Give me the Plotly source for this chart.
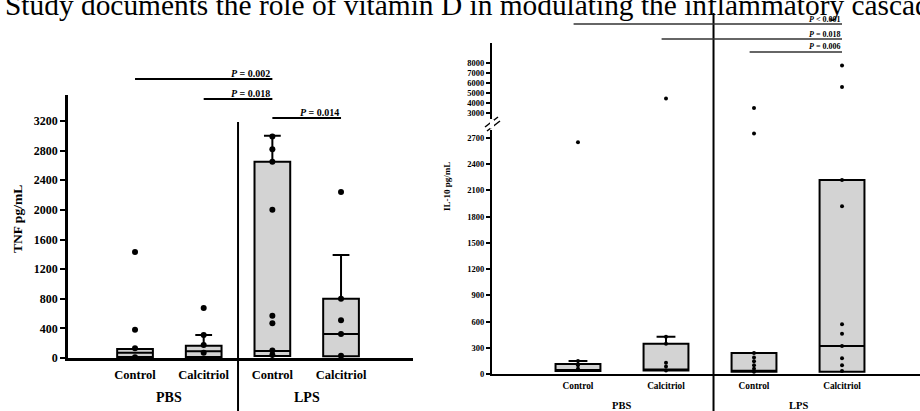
import plotly.graph_objects as go

W, H = 920, 411

# ---------------- data ----------------
categories = ["Control", "Calcitriol", "Control", "Calcitriol"]
groups = ["PBS", "LPS"]

# TNF (pg/mL) box statistics per group
tnf_q1 = [15, 15, 27, 25]
tnf_median = [70, 90, 95, 325]
tnf_q3 = [120, 165, 2650, 800]
tnf_upper = [120, 310, 3000, 1390]
tnf_points = [
    [1430, 380, 130, 10],
    [675, 310, 175, 70],
    [2990, 2820, 2650, 2000, 570, 470, 100, 40],
    [2240, 800, 510, 325, 30],
]
tnf_ticks = [0, 400, 800, 1200, 1600, 2000, 2400, 2800, 3200]

# IL-10 (pg/mL) box statistics per group
il10_q1 = [35, 40, 25, 25]
il10_median = [35, 40, 25, 320]
il10_q3 = [114, 345, 240, 2220]
il10_upper = [150, 425, 240, 2220]
il10_points = [
    [2650, 150, 100, 60],
    [4450, 425, 345, 130, 85, 40],
    [3500, 2750, 240, 190, 145, 100, 60, 25],
    [7750, 5600, 2220, 1920, 570, 460, 320, 180, 100, 35],
]
il10_low_ticks = [0, 300, 600, 900, 1200, 1500, 1800, 2100, 2400, 2700]
il10_high_ticks = [3000, 4000, 5000, 6000, 7000, 8000]
IL10_BREAK = 2791  # top of the lower axis segment

tnf_pvalues = [("<i>P</i> = 0.002", 0, 2, 79), ("<i>P</i> = 0.018", 1, 2, 99), ("<i>P</i> = 0.014", 2, 3, 118)]
il10_pvalues = [("<i>P</i> &lt; 0.001", 0, 3, 24), ("<i>P</i> = 0.018", 1, 3, 39), ("<i>P</i> = 0.006", 2, 3, 52)]

# ---------------- helpers ----------------
def py(p):
    return 1 - p / H


def pxx(p):
    return p / W


SERIF = "Liberation Serif"
FILL = "#d3d3d3"
xs = list(range(len(categories)))

fig = go.Figure()

# --- TNF panel ---
fig.add_trace(go.Box(
    x=xs, q1=tnf_q1, median=tnf_median, q3=tnf_q3,
    lowerfence=tnf_q1, upperfence=tnf_upper,
    width=0.52, whiskerwidth=0.47, fillcolor=FILL,
    line=dict(color="black", width=2), boxpoints=False,
    xaxis="x", yaxis="y", showlegend=False, hoverinfo="skip"))
px_, py_ = [], []
for i, pts in enumerate(tnf_points):
    px_ += [i] * len(pts)
    py_ += pts
fig.add_trace(go.Scatter(x=px_, y=py_, mode="markers",
                         marker=dict(color="black", size=6),
                         xaxis="x", yaxis="y", showlegend=False, hoverinfo="skip"))

# --- IL-10 panel (broken axis) ---
fig.add_trace(go.Box(
    x=xs, q1=il10_q1, median=il10_median, q3=il10_q3,
    lowerfence=il10_q1, upperfence=il10_upper,
    width=0.51, whiskerwidth=0.42, fillcolor=FILL,
    line=dict(color="black", width=2), boxpoints=False,
    xaxis="x2", yaxis="y2", showlegend=False, hoverinfo="skip"))
lx, ly, hx, hy = [], [], [], []
for i, pts in enumerate(il10_points):
    for v in pts:
        if v > IL10_BREAK:
            hx.append(i); hy.append(v)
        else:
            lx.append(i); ly.append(v)
fig.add_trace(go.Scatter(x=lx, y=ly, mode="markers",
                         marker=dict(color="black", size=4),
                         xaxis="x2", yaxis="y2", showlegend=False, hoverinfo="skip"))
fig.add_trace(go.Scatter(x=hx, y=hy, mode="markers",
                         marker=dict(color="black", size=4),
                         xaxis="x2", yaxis="y3", showlegend=False, hoverinfo="skip"))

# ---------------- axes ----------------
def tfont(size):
    return dict(family=SERIF, size=size, color="black", weight="bold")


common_x = dict(showline=True, linecolor="black", ticks="", showgrid=False,
                zeroline=False, tickvals=xs, ticktext=categories, automargin=False)
common_y = dict(showline=True, linecolor="black", ticks="outside",
                tickcolor="black", showgrid=False, zeroline=False, automargin=False)

fig.update_layout(
    template="none",
    width=W, height=H, margin=dict(l=0, r=0, t=0, b=0, pad=0),
    paper_bgcolor="white", plot_bgcolor="white",
    xaxis=dict(domain=[pxx(68), pxx(413)], anchor="y", range=[-0.976, 4.048],
               linewidth=2.5, tickfont=tfont(12.5), ticklabelstandoff=3, **common_x),
    yaxis=dict(domain=[py(358), py(95)], anchor="x", range=[0, 3551],
               tickvals=tnf_ticks, linewidth=2.5, ticklen=5, tickwidth=2,
               tickfont=tfont(12), **common_y),
    xaxis2=dict(domain=[pxx(492), 1.0], anchor="y2", range=[-0.977, 3.886],
                linewidth=2, tickfont=tfont(9.3), ticklabelstandoff=2, **common_x),
    yaxis2=dict(domain=[py(374), py(130)], anchor="x2", range=[0, IL10_BREAK],
                tickvals=il10_low_ticks, linewidth=2, ticklen=4, tickwidth=1.5,
                tickfont=tfont(8.5), **common_y),
    yaxis3=dict(domain=[py(119), py(43)], anchor="x2", range=[2400, 10000],
                tickvals=il10_high_ticks, linewidth=2, ticklen=4, tickwidth=1.5,
                tickfont=tfont(8.5), **common_y),
)

shapes = []
annotations = []

# group dividers
shapes.append(dict(type="line", xref="x", yref="paper", x0=1.5, x1=1.5,
                   y0=py(122), y1=0, line=dict(color="black", width=2)))
shapes.append(dict(type="line", xref="x2", yref="paper", x0=1.54, x1=1.54,
                   y0=py(13), y1=0, line=dict(color="black", width=2)))

# axis break marks
for (a, b, c, d) in [(485, 127, 498, 117), (487, 131, 500, 121)]:
    shapes.append(dict(type="line", xref="paper", yref="paper",
                       x0=pxx(a), y0=py(b), x1=pxx(c), y1=py(d),
                       line=dict(color="black", width=1.5)))
shapes.append(dict(type="rect", xref="paper", yref="paper",
                   x0=pxx(490), x1=pxx(494), y0=py(128.5), y1=py(120),
                   fillcolor="white", line=dict(width=0), layer="above"))

# significance brackets
for text, a, b, ypix in tnf_pvalues:
    shapes.append(dict(type="line", xref="x", yref="paper", x0=a, x1=b,
                       y0=py(ypix), y1=py(ypix), line=dict(color="black", width=2)))
    annotations.append(dict(text=text, xref="x", yref="paper", x=b, y=py(ypix - 6),
                            xanchor="right", yanchor="middle", showarrow=False,
                            font=tfont(10)))
for text, a, b, ypix in il10_pvalues:
    shapes.append(dict(type="line", xref="x2", yref="paper", x0=a - 0.05, x1=b,
                       y0=py(ypix), y1=py(ypix), line=dict(color="#333", width=1.5)))
    annotations.append(dict(text=text, xref="x2", yref="paper", x=b, y=py(ypix - 5),
                            xanchor="right", yanchor="middle", showarrow=False,
                            font=tfont(8)))

# group labels
for g, xc in zip(groups, [0.5, 2.5]):
    annotations.append(dict(text=g, xref="x", yref="paper", x=xc, y=py(397),
                            xanchor="center", yanchor="middle",
                            showarrow=False, font=tfont(14)))
    annotations.append(dict(text=g, xref="x2", yref="paper", x=xc, y=py(405),
                            xanchor="center", yanchor="middle",
                            showarrow=False, font=tfont(10.5)))

# axis titles
annotations.append(dict(text="TNF pg/mL", xref="paper", yref="paper", x=pxx(17),
                        y=py(219), xanchor="center", yanchor="middle",
                        textangle=-90, showarrow=False, font=tfont(13.5)))
annotations.append(dict(text="IL-10 pg/mL", xref="paper", yref="paper", x=pxx(447),
                        y=py(187), xanchor="center", yanchor="middle",
                        textangle=-90, showarrow=False, font=tfont(9)))

# headline
annotations.append(dict(text="Study documents the role of vitamin D in modulating the inflammatory cascade",
                        xref="paper", yref="paper", x=pxx(3), y=py(5), xanchor="left",
                        yanchor="middle", showarrow=False,
                        font=dict(family=SERIF, size=29.4, color="black")))

fig.update_layout(shapes=shapes, annotations=annotations)
fig.write_html("out.html")
